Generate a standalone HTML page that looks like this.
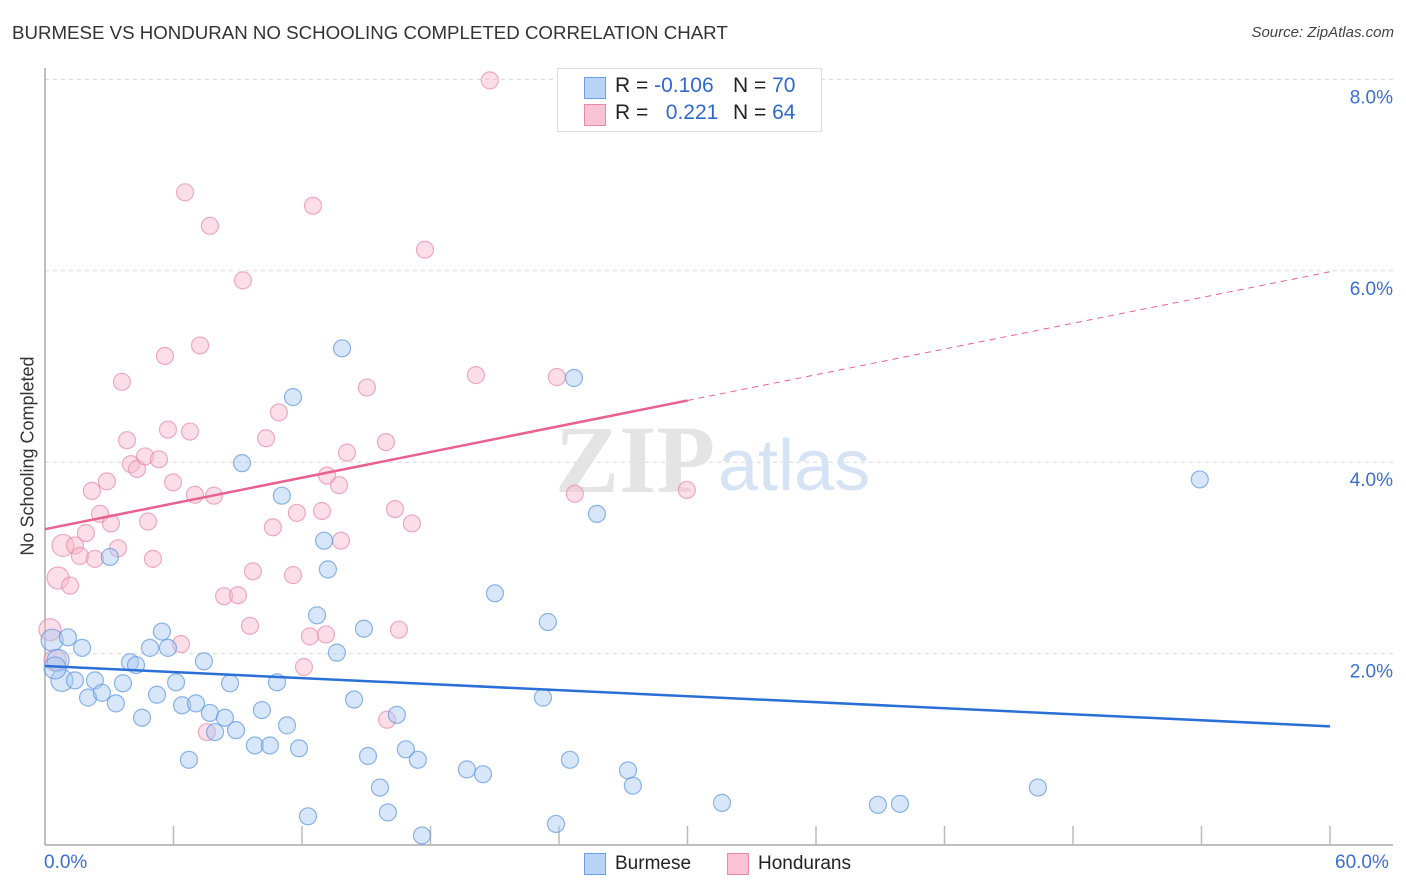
<!DOCTYPE html>
<html><head><meta charset="utf-8">
<style>
body{margin:0;background:#fff;font-family:"Liberation Sans",sans-serif;}
#wrap{position:relative;width:1406px;height:892px;overflow:hidden;}
.t{position:absolute;white-space:nowrap;}
</style></head>
<body>
<div id="wrap">
<div class="t" style="left:12px;top:22px;font-size:18.7px;color:#333;">BURMESE VS HONDURAN NO SCHOOLING COMPLETED CORRELATION CHART</div>
<div class="t" style="right:12px;top:24px;font-size:15px;color:#444;font-style:italic;">Source: ZipAtlas.com</div>
<svg id="plot" width="1406" height="892" style="position:absolute;left:0;top:0"></svg>
</div>
<script>
const blueX=[0.33,0.61,0.79,1.07,1.40,1.73,2.01,2.33,2.66,3.03,3.31,3.64,3.97,4.25,4.53,4.90,5.23,5.46,5.74,6.12,6.40,6.72,7.05,7.42,7.70,7.94,8.40,8.64,8.92,9.20,9.80,10.13,10.50,10.83,11.06,11.30,11.58,11.86,12.28,12.70,13.03,13.21,13.63,13.87,14.43,14.89,15.08,15.64,16.01,16.43,16.85,17.41,17.60,19.70,20.45,21.01,23.25,23.48,23.86,24.51,24.70,25.77,27.22,27.45,31.61,38.89,39.92,46.36,53.92,0.47];
const blueY=[2.14,1.93,1.72,2.17,1.72,2.06,1.54,1.72,1.59,3.01,1.48,1.69,1.91,1.88,1.33,2.06,1.57,2.23,2.06,1.70,1.46,0.89,1.48,1.92,1.38,1.18,1.33,1.69,1.20,3.99,1.04,1.41,1.04,1.70,3.65,1.25,4.68,1.01,0.30,2.40,3.18,2.88,2.01,5.19,1.52,2.26,0.93,0.60,0.34,1.36,1.00,0.89,0.10,0.79,0.74,2.63,1.54,2.33,0.22,0.89,4.88,3.46,0.78,0.62,0.44,0.42,0.43,0.60,3.82,1.85];
const pinkX=[0.23,0.47,0.61,0.84,1.17,1.40,1.63,1.91,2.19,2.33,2.57,2.89,3.08,3.41,3.59,3.83,4.01,4.30,4.67,4.81,5.04,5.32,5.60,5.74,5.98,6.35,6.54,6.77,7.00,7.24,7.56,7.70,7.89,8.36,9.01,9.24,9.57,9.71,10.32,10.64,10.92,11.58,11.76,12.09,12.37,12.51,12.93,13.12,13.17,13.73,13.82,14.10,15.03,15.92,15.97,16.34,16.53,17.13,17.74,20.12,20.77,23.90,24.74,29.97];
const pinkY=[2.25,1.93,2.79,3.13,2.71,3.13,3.02,3.26,3.70,2.99,3.46,3.80,3.36,3.10,4.84,4.23,3.98,3.93,4.06,3.38,2.99,4.03,5.11,4.34,3.79,2.10,6.82,4.32,3.66,5.22,1.18,6.47,3.65,2.60,2.61,5.90,2.29,2.86,4.25,3.32,4.52,2.82,3.47,1.86,2.18,6.68,3.49,2.20,3.86,3.76,3.18,4.10,4.78,4.21,1.31,3.51,2.25,3.36,6.22,4.91,7.99,4.89,3.67,3.71];
const blueTrend=[1.87,1.24];
const pinkTrend=[3.30,5.99];
const pinkSolidEnd=30;
const yTicks=[2,4,6,8];
const yTickLabels=["2.0%","4.0%","6.0%","8.0%"];

const X0=45,X1=1330,Y0=845,PY=95.7;
const sx=v=>X0+(v/60)*(X1-X0);
const sy=v=>Y0-v*PY;
const svg=document.getElementById('plot');
const NS='http://www.w3.org/2000/svg';
function mk(tag,attrs){const e=document.createElementNS(NS,tag);for(const k in attrs)e.setAttribute(k,attrs[k]);svg.appendChild(e);return e;}

yTicks.forEach((v,i)=>{
  const g=mk('line',{x1:X0,x2:1393,y1:sy(v),y2:sy(v),stroke:'#d8d8d8','stroke-dasharray':'4,4'});
  
  
  const t=mk('text',{x:1393,y:sy(v)+24,'text-anchor':'end','font-size':19,fill:'#3a6fd0','font-family':'Liberation Sans,sans-serif'});
  t.textContent=yTickLabels[i];
  
  
});
let a=mk('line',{x1:X0,x2:X0,y1:68,y2:Y0,stroke:'#aaa','stroke-width':1.5});


a=mk('line',{x1:X0,x2:1393,y1:Y0,y2:Y0,stroke:'#aaa','stroke-width':1.5});


for(let i=1;i<=10;i++){
  const tk=mk('line',{x1:sx(i*6),x2:sx(i*6),y1:826,y2:Y0,stroke:'#bbb','stroke-width':1.5});
  
  
}
let w=mk('text',{x:555,y:492,'font-size':96,fill:'#e4e4e4','font-family':'Liberation Serif,serif','font-weight':'bold'});
w.textContent='ZIP';


w=mk('text',{x:718,y:490,'font-size':72,fill:'#d6e3f5','font-family':'Liberation Sans,sans-serif'});
w.textContent='atlas';



function dots(xs,ys,fill,stroke,name){
  xs.forEach((x,i)=>{
    const r=(x<0.9)?11:8.5;
    const c=mk('circle',{cx:sx(x),cy:sy(ys[i]),r:r,fill:fill,'fill-opacity':0.45,stroke:stroke,'stroke-opacity':0.7,'stroke-width':1.2});
    
    
  });
}
dots(pinkX,pinkY,'#f7b6c9','#e98aa8','honduran-point');
dots(blueX,blueY,'#a8c8f2','#5d95e0','burmese-point');

let l=mk('line',{x1:sx(0),y1:sy(blueTrend[0]),x2:sx(60),y2:sy(blueTrend[1]),stroke:'#2a6fd6','stroke-width':2.5});


const pAt=v=>pinkTrend[0]+(pinkTrend[1]-pinkTrend[0])*v/60;
l=mk('line',{x1:sx(0),y1:sy(pAt(0)),x2:sx(pinkSolidEnd),y2:sy(pAt(pinkSolidEnd)),stroke:'#e8628f','stroke-width':2.5});


l=mk('line',{x1:sx(pinkSolidEnd),y1:sy(pAt(pinkSolidEnd)),x2:sx(60),y2:sy(pAt(60)),stroke:'#e8628f','stroke-width':1,'stroke-dasharray':'6,5'});


</script>
<div class="t" style="left:44px;top:852px;font-size:19px;color:#3a6fd0;">0.0%</div>
<div class="t" style="left:1335px;top:852px;font-size:19px;color:#3a6fd0;">60.0%</div>
<div class="t" style="left:28px;top:456px;font-size:18px;color:#333;transform:translate(-50%,-50%) rotate(-90deg);">No Schooling Completed</div>
<div style="position:absolute;left:557px;top:68px;width:263px;height:62px;border:1px solid #ddd;background:#fff;">
 <div style="position:absolute;left:26px;top:8px;width:20px;height:20px;background:#b9d3f6;border:1px solid #6f9fe0;"></div>
 <div class="t" style="left:57px;top:5px;font-size:21px;color:#222;">R = <span style="color:#2f69cf">-0.106</span></div>
 <div class="t" style="left:175px;top:5px;font-size:21px;color:#222;">N = <span style="color:#2f69cf">70</span></div>
 <div style="position:absolute;left:26px;top:35px;width:20px;height:20px;background:#f9c3d3;border:1px solid #e98aa8;"></div>
 <div class="t" style="left:57px;top:32px;font-size:21px;color:#222;">R = &nbsp;&nbsp;<span style="color:#2f69cf">0.221</span></div>
 <div class="t" style="left:175px;top:32px;font-size:21px;color:#222;">N = <span style="color:#2f69cf">64</span></div>
</div>
<div style="position:absolute;left:584px;top:853px;width:20px;height:20px;background:#b9d3f6;border:1px solid #6f9fe0;"></div>
<div class="t" style="left:615px;top:853px;font-size:19px;color:#222;">Burmese</div>
<div style="position:absolute;left:727px;top:853px;width:20px;height:20px;background:#f9c3d3;border:1px solid #e98aa8;"></div>
<div class="t" style="left:758px;top:853px;font-size:19px;color:#222;">Hondurans</div>
</body></html>
